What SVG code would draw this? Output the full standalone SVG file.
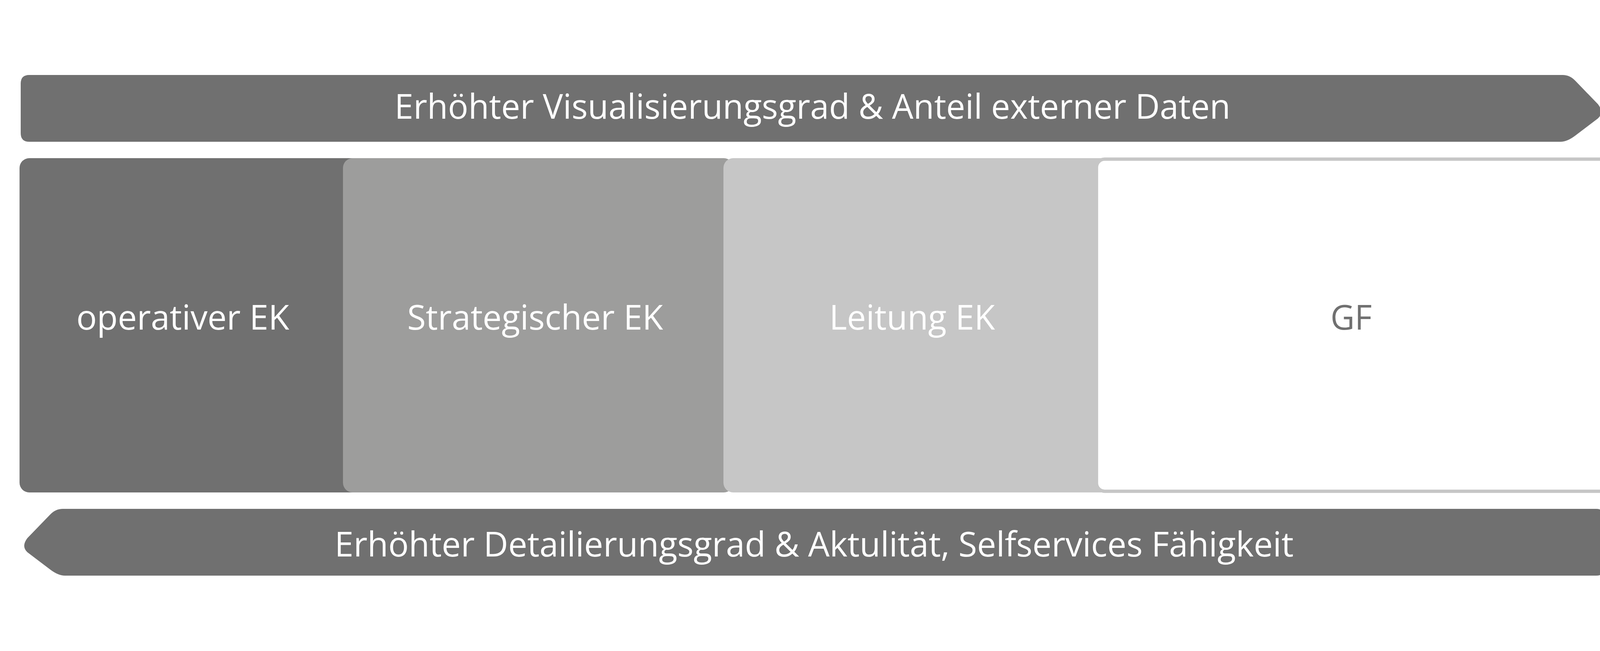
<svg xmlns="http://www.w3.org/2000/svg" width="4167" height="1667" viewBox="0 0 4167 1667">
  <style>
    .lbl { font-family: "Open Sans", "Noto Sans", sans-serif; font-size: 87px; text-anchor: middle; }
    .w { fill: #ffffff; }
    .g { fill: #707070; }
    .banner { fill: #707070; }
  </style>
  <rect x="0" y="0" width="4167" height="1667" fill="#ffffff"/>
  <g id="connectors">
    <g id="arrow-top">
      <path class="banner" d="M 75,192 H 4000 Q 4019,192 4033,207 L 4091,267 Q 4107,288 4091,303 L 4033,347 Q 4012,363 3995,363 H 75 Q 53,363 53,341 V 214 Q 53,192 75,192 Z"/>
      <text class="lbl w" x="2080" y="304" textLength="2140" lengthAdjust="spacingAndGlyphs">Erhöhter Visualisierungsgrad &amp; Anteil externer Daten</text>
    </g>
    <g id="arrow-bottom">
      <path class="banner" d="M 4086,1303 H 161 Q 142,1303 128,1318 L 70,1378 Q 54,1399 70,1414 L 128,1458 Q 149,1474 166,1474 H 4086 Q 4108,1474 4108,1452 V 1325 Q 4108,1303 4086,1303 Z"/>
      <text class="lbl w" x="2084" y="1425" textLength="2455" lengthAdjust="spacingAndGlyphs">Erhöhter Detailierungsgrad &amp; Aktulität, Selfservices Fähigkeit</text>
    </g>
  </g>
  <g id="box-operativ">
    <rect x="50" y="405" width="880" height="856" rx="25" ry="25" fill="#707070"/>
    <text class="lbl w" x="468" y="844" textLength="545" lengthAdjust="spacingAndGlyphs">operativer EK</text>
  </g>
  <g id="box-strategisch">
    <rect x="878" y="405" width="1000" height="856" rx="25" ry="25" fill="#9d9d9c"/>
    <text class="lbl w" x="1370" y="844" textLength="655" lengthAdjust="spacingAndGlyphs">Strategischer EK</text>
  </g>
  <g id="box-leitung">
    <rect x="1852" y="405" width="990" height="856" rx="25" ry="25" fill="#c6c6c6"/>
    <text class="lbl w" x="2335" y="844" textLength="424" lengthAdjust="spacingAndGlyphs">Leitung EK</text>
  </g>
  <g id="box-gf">
    <rect x="2807" y="407.5" width="3299" height="850.5" rx="21" ry="21" fill="#ffffff" stroke="#c6c6c6" stroke-width="8.5"/>
    <text class="lbl g" x="3459" y="844" textLength="106" lengthAdjust="spacingAndGlyphs">GF</text>
  </g>
</svg>
